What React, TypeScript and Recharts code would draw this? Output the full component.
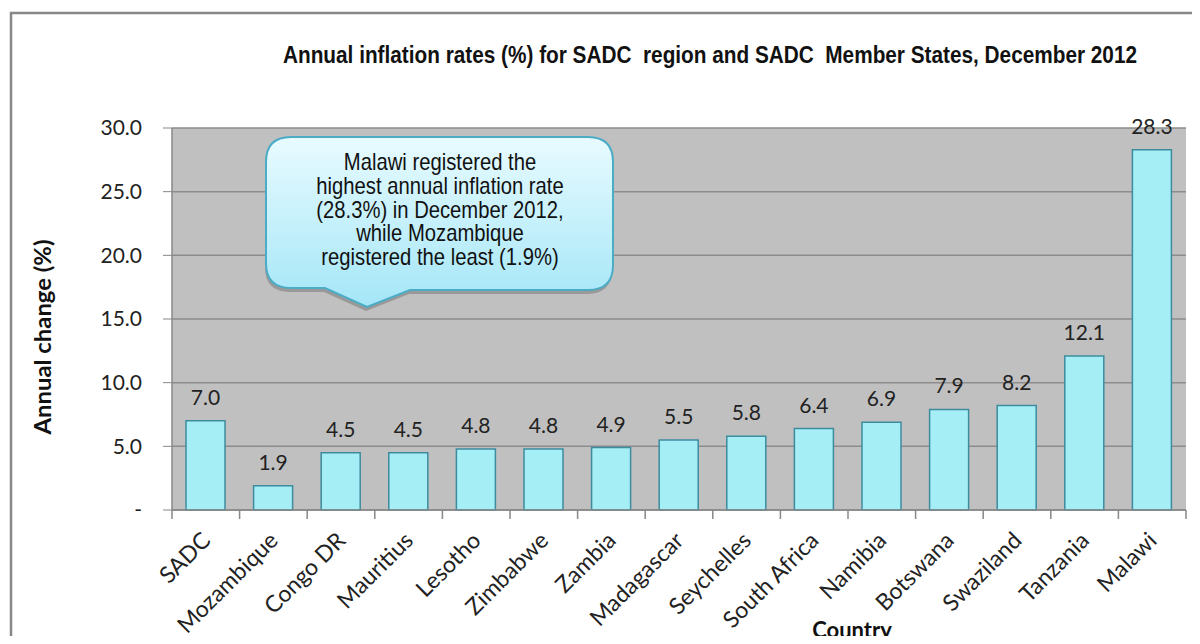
import { BarChart, Bar, XAxis, YAxis, CartesianGrid, LabelList } from 'recharts'

const countries = [
  'SADC',
  'Mozambique',
  'Congo DR',
  'Mauritius',
  'Lesotho',
  'Zimbabwe',
  'Zambia',
  'Madagascar',
  'Seychelles',
  'South Africa',
  'Namibia',
  'Botswana',
  'Swaziland',
  'Tanzania',
  'Malawi',
]
const rates = [7.0, 1.9, 4.5, 4.5, 4.8, 4.8, 4.9, 5.5, 5.8, 6.4, 6.9, 7.9, 8.2, 12.1, 28.3]
const yTicks = [0, 5, 10, 15, 20, 25, 30]

const title =
  'Annual inflation rates (%) for SADC  region and SADC  Member States, December 2012'
const calloutLines = [
  'Malawi registered the',
  'highest annual inflation rate',
  '(28.3%) in December 2012,',
  'while Mozambique',
  'registered the least (1.9%)',
]

const data = countries.map((name, i) => ({ name, value: rates[i] }))

const bodyFont = 'Lato, "Open Sans", sans-serif'
const narrowFont = '"Liberation Sans", Arial, sans-serif'

// category label plus the Excel-style tick marks at the band edges
function CountryTick(props: any) {
  const { x, y, payload, index, visibleTicksCount } = props
  const half = payload?.offset || 1014 / countries.length / 2
  const last = index === visibleTicksCount - 1
  return (
    <g>
      <line x1={x - half} y1={y} x2={x - half} y2={y + 9} stroke="#888" strokeWidth={1.5} />
      {last && <line x1={x + half} y1={y} x2={x + half} y2={y + 9} stroke="#888" strokeWidth={1.5} />}
      <text
        transform={`translate(${x + 6},${y + 32}) rotate(-45)`}
        textAnchor="end"
        fontSize={23}
        fontFamily={bodyFont}
        fill="#222"
      >
        {payload.value}
      </text>
    </g>
  )
}

function Callout() {
  const path =
    'M291,137 H588 Q613,137 613,162 V265 Q613,290 588,290 H410 L367,307 L325,288 H291 Q266,288 266,263 V162 Q266,137 291,137 Z'
  return (
    <g>
      <defs>
        <linearGradient id="calloutFill" x1="0" y1="0" x2="0" y2="1">
          <stop offset="0%" stopColor="#E8FBFF" />
          <stop offset="100%" stopColor="#A4E6F7" />
        </linearGradient>
      </defs>
      <path d={path} transform="translate(-1,4)" fill="#7f7f7f" opacity={0.6} />
      <path d={path} fill="url(#calloutFill)" stroke="#4BACC6" strokeWidth={2} />
      <g transform="translate(440,0) scale(0.88,1)">
        <text textAnchor="middle" fontSize={23} fontFamily={narrowFont} fill="#111">
          {calloutLines.map((line, i) => (
            <tspan key={i} x={0} y={170 + i * 23.8}>
              {line}
            </tspan>
          ))}
        </text>
      </g>
    </g>
  )
}

export default function App() {
  return (
    <div style={{ position: 'relative', width: 1200, height: 644, margin: -8, background: '#fff' }}>
      <BarChart
        width={1200}
        height={644}
        data={data}
        margin={{ top: 128, right: 14, bottom: 0, left: 72 }}
      >
        <CartesianGrid vertical={false} fill="#C0C0C0" fillOpacity={1} stroke="#8C8C8C" strokeWidth={1.5} />
        <XAxis
          dataKey="name"
          height={134}
          interval={0}
          tickSize={0}
          tickMargin={0}
          tickLine={false}
          axisLine={{ stroke: '#888', strokeWidth: 1.5 }}
          tick={<CountryTick />}
        />
        <YAxis
          width={100}
          domain={[0, 30]}
          ticks={yTicks}
          interval={0}
          tickSize={9}
          tickMargin={21}
          axisLine={{ stroke: '#888', strokeWidth: 1.5 }}
          tickLine={{ stroke: '#888' }}
          tick={{ fill: '#222', fontSize: 21, fontFamily: bodyFont }}
          tickFormatter={(v: number) => (v === 0 ? '-' : v.toFixed(1))}
        />
        <Bar
          dataKey="value"
          barSize={39}
          fill="#A6EEF6"
          stroke="#3C8C9E"
          strokeWidth={1.5}
          isAnimationActive={false}
        >
          <LabelList
            dataKey="value"
            position="top"
            offset={16}
            formatter={(v: any) => Number(v).toFixed(1)}
            fill="#222"
            fontSize={21}
            fontFamily={bodyFont}
          />
        </Bar>
      </BarChart>
      <svg
        width={1200}
        height={644}
        style={{ position: 'absolute', left: 0, top: 0, pointerEvents: 'none' }}
      >
        <rect x={11} y={13} width={1200} height={700} fill="none" stroke="#888" strokeWidth={2.5} />
        <text
          x={283}
          y={63}
          fontSize={23}
          fontWeight="bold"
          fontFamily={narrowFont}
          fill="#111"
          textLength={854}
          lengthAdjust="spacingAndGlyphs"
          style={{ whiteSpace: 'pre' }}
        >
          {title}
        </text>
        <text
          transform="translate(51,337) rotate(-90)"
          textAnchor="middle"
          fontSize={22}
          fontWeight="bold"
          fontFamily={bodyFont}
          fill="#111"
          textLength={195}
          lengthAdjust="spacingAndGlyphs"
        >
          Annual change (%)
        </text>
        <text x={852} y={638} textAnchor="middle" fontSize={22} fontWeight="bold" fontFamily={bodyFont} fill="#111">
          Country
        </text>
        <Callout />
      </svg>
    </div>
  )
}
